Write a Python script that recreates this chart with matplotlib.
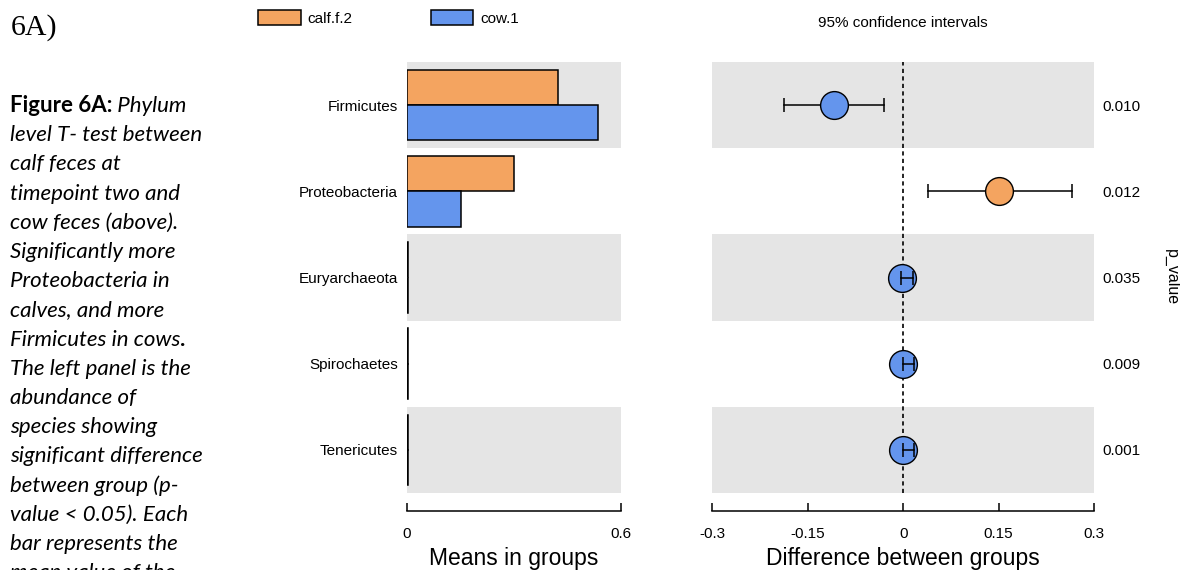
"""
Phylum level T-test: calf.f.2 vs cow.1 (extended error bar plot).
"""
import numpy as np
import matplotlib
matplotlib.use('Agg')
import matplotlib.pyplot as plt

# data, top row first
phyla = ['Firmicutes', 'Proteobacteria', 'Euryarchaeota', 'Spirochaetes', 'Tenericutes']
calf_means = [0.423, 0.300, 0.002, 0.002, 0.002]
cow_means = [0.536, 0.151, 0.004, 0.003, 0.003]
diff = [-0.109, 0.151, -0.002, -0.001, -0.001]
ci_low = [-0.187, 0.039, -0.004, 0.000, 0.000]
ci_high = [-0.030, 0.265, 0.016, 0.017, 0.017]
p_values = ['0.010', '0.012', '0.035', '0.009', '0.001']

group_names = ['calf.f.2', 'cow.1']
means_ticks = [0, 0.6]
means_tick_labels = ['0', '0.6']
diff_ticks = [-0.3, -0.15, 0, 0.15, 0.3]
diff_tick_labels = ['-0.3', '-0.15', '0', '0.15', '0.3']

caption = [
    [('Figure 6A:', 'bold'), (' Phylum', 'italic')],
    [('level T- test between', 'italic')],
    [('calf feces at', 'italic')],
    [('timepoint two and', 'italic')],
    [('cow feces (above).', 'italic')],
    [('Significantly more', 'italic')],
    [('Proteobacteria in', 'italic')],
    [('calves, and more', 'italic')],
    [('Firmicutes in cows', 'italic'), ('.', 'bold')],
    [('The left panel is the', 'italic')],
    [('abundance of', 'italic')],
    [('species showing', 'italic')],
    [('significant difference', 'italic')],
    [('between group (p-', 'italic')],
    [('value < 0.05). Each', 'italic')],
    [('bar represents the', 'italic')],
    [('mean value of the', 'italic')],
]

ORANGE = '#F4A460'
BLUE = '#6495ED'
BAND = '#E5E5E5'

plt.rcParams['font.family'] = ['Liberation Sans', 'DejaVu Sans']

W, H = 1180, 570
fig = plt.figure(figsize=(W / 100, H / 100), dpi=100)

ax1 = fig.add_axes([407 / W, 1 - 493 / H, 214 / W, 431 / H])
ax2 = fig.add_axes([712.5 / W, 1 - 493 / H, 381.5 / W, 431 / H])

y = np.arange(len(phyla))
bh = 0.41

for ax in (ax1, ax2):
    for i in y:
        if i % 2 == 0:
            ax.axhspan(i - 0.5, i + 0.5, color=BAND, lw=0, zorder=0)
    ax.set_ylim(len(phyla) - 0.5, -0.5)
    for s in ('top', 'right', 'left'):
        ax.spines[s].set_visible(False)
    ax.spines['bottom'].set_position(('outward', 13))
    ax.spines['bottom'].set_linewidth(1.1)
    ax.tick_params(axis='x', direction='in', length=6, width=1.1,
                   pad=11.5, labelsize=11)
    ax.tick_params(axis='y', length=0)

# left: means in groups
b1 = ax1.barh(y - bh / 2, calf_means, height=bh, color=ORANGE,
              edgecolor='black', linewidth=1.1, label=group_names[0], zorder=2)
b2 = ax1.barh(y + bh / 2, cow_means, height=bh, color=BLUE,
              edgecolor='black', linewidth=1.1, label=group_names[1], zorder=2)
ax1.set_xlim(0, 0.6)
ax1.spines['bottom'].set_bounds(0, 0.6)
ax1.set_xticks(means_ticks)
ax1.set_xticklabels(means_tick_labels)
ax1.set_yticks(y)
ax1.set_yticklabels(phyla, fontsize=11)
ax1.tick_params(axis='y', pad=6.5)
ax1.set_xlabel('Means in groups', fontsize=16.5, labelpad=4)

# right: difference between groups with 95% CI
ax2.set_xlim(-0.3, 0.3)
ax2.spines['bottom'].set_bounds(-0.3, 0.3)
ax2.set_xticks(diff_ticks)
ax2.set_xticklabels(diff_tick_labels)
ax2.set_yticks([])
ax2.axvline(0, color='black', lw=1.2, dashes=(2.5, 2), zorder=1)
for i in y:
    col = ORANGE if diff[i] > 0 else BLUE
    narrow = (ci_high[i] - ci_low[i]) < 0.04
    z = 4 if narrow else 2
    ax2.plot([ci_low[i], ci_high[i]], [i, i], color='black', lw=1.1,
             marker='|', ms=10, mew=1.1, zorder=z)
    ax2.plot(diff[i], i, 'o', ms=20, mfc=col, mec='black', mew=1.0, zorder=3)
ax2.set_xlabel('Difference between groups', fontsize=16.5, labelpad=4)

# p-values on the right
ax3 = ax2.twinx()
ax3.set_ylim(ax2.get_ylim())
ax3.set_yticks(y)
ax3.set_yticklabels(p_values, fontsize=11)
ax3.tick_params(axis='y', length=0, pad=6)
for s in ax3.spines.values():
    s.set_visible(False)
ax3.set_ylabel('p_value', rotation=270, fontsize=11.5, labelpad=22, va='center')

fig.legend(handles=[b1, b2], loc='upper left', bbox_to_anchor=(258 / W, 1 - 10 / H),
           ncol=2, frameon=False, fontsize=11, handlelength=2.8, handleheight=1.1,
           handletextpad=0.45, columnspacing=5.1, borderpad=0, borderaxespad=0)
fig.text(903 / W, 1 - 23 / H, '95% confidence intervals', ha='center', va='center',
         fontsize=11)

# caption on the left
fig.text(11 / W, 1 - 28 / H, '6A)', family='Liberation Serif', fontsize=21.5,
         ha='left', va='center')
line_y0, line_step = 106, 29.2
for k, pieces in enumerate(caption):
    prev = None
    for txt, style in pieces:
        kw = dict(family=['Lato', 'DejaVu Sans'], fontsize=16,
                  fontweight='bold' if style == 'bold' else 'normal',
                  fontstyle='italic' if style == 'italic' else 'normal')
        if prev is None:
            prev = fig.text(10 / W, 1 - (line_y0 + k * line_step) / H, txt,
                            ha='left', va='center', **kw)
        else:
            prev = fig.add_artist(plt.Annotation(txt, xy=(1, 0), xycoords=prev,
                                                 ha='left', va='bottom', **kw))

plt.savefig('out.png', dpi=100)
